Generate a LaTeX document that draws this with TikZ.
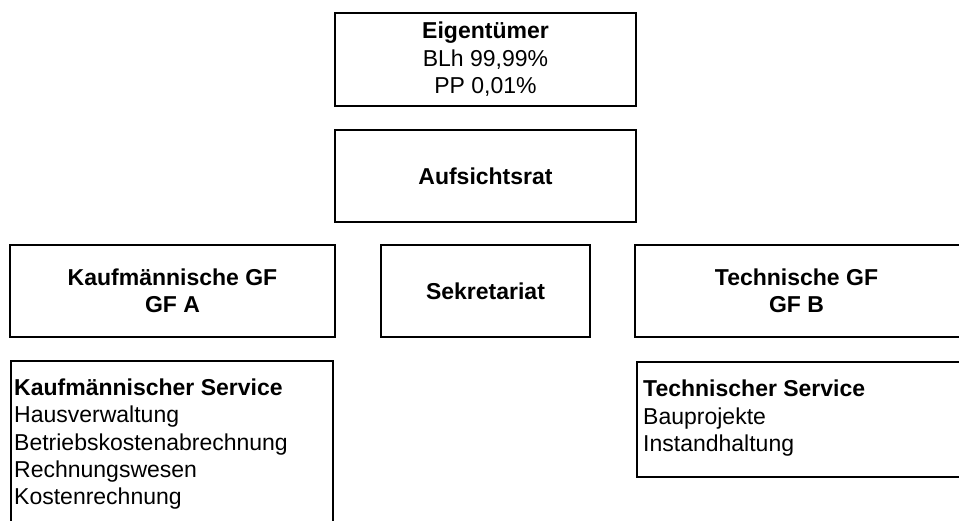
\documentclass[tikz,border=0pt]{standalone}
\usepackage{fontspec}
\setmainfont{Liberation Sans}
\begin{document}
\begin{tikzpicture}[x=1pt,y=-1pt,
  box/.style={draw=black, line width=1.6pt, inner sep=0pt, align=center,
              font=\fontsize{23}{27.5}\selectfont},
  txt/.style={inner sep=0pt, font=\fontsize{23}{27.5}\selectfont}]
\useasboundingbox (0,0) rectangle (959,520);
% top
\node[box, minimum width=301pt, minimum height=93pt] (eig) at (485.5,59.5)
  {\textbf{Eigentümer}\\BLh 99,99\%\\PP 0,01\%};
\node[box, minimum width=301pt, minimum height=92pt] (ar) at (485.5,176)
  {\textbf{Aufsichtsrat}};
% middle row
\node[box, minimum width=325pt, minimum height=92pt] (kgf) at (172.5,291)
  {\textbf{Kaufmännische GF}\\\textbf{GF A}};
\node[box, minimum width=209pt, minimum height=92pt] (sek) at (485.5,291)
  {\textbf{Sekretariat}};
\node[box, minimum width=329pt, minimum height=92pt] (tgf) at (799.5,291) {};
\node[txt, align=center] (tgft) at (796.5,291)
  {\textbf{Technische GF}\\\textbf{GF B}};
% service boxes
\node[box, minimum width=322pt, minimum height=169pt] (ksvc) at (172,445.5) {};
\node[txt, anchor=base west] (ks1) at (14,395.7) {\textbf{Kaufmännischer Service}};
\node[txt, anchor=base west] (ks2) at (14,422.9) {Hausverwaltung};
\node[txt, anchor=base west] (ks3) at (14,450.1) {Betriebskostenabrechnung};
\node[txt, anchor=base west] (ks4) at (14,477.3) {Rechnungswesen};
\node[txt, anchor=base west] (ks5) at (14,504.5) {Kostenrechnung};
\node[box, minimum width=327pt, minimum height=115pt] (tsvc) at (800.5,419.5) {};
\node[txt, anchor=base west] (ts1) at (643,396.7) {\textbf{Technischer Service}};
\node[txt, anchor=base west] (ts2) at (643,424.2) {Bauprojekte};
\node[txt, anchor=base west] (ts3) at (643,451.7) {Instandhaltung};
\end{tikzpicture}
\end{document}
